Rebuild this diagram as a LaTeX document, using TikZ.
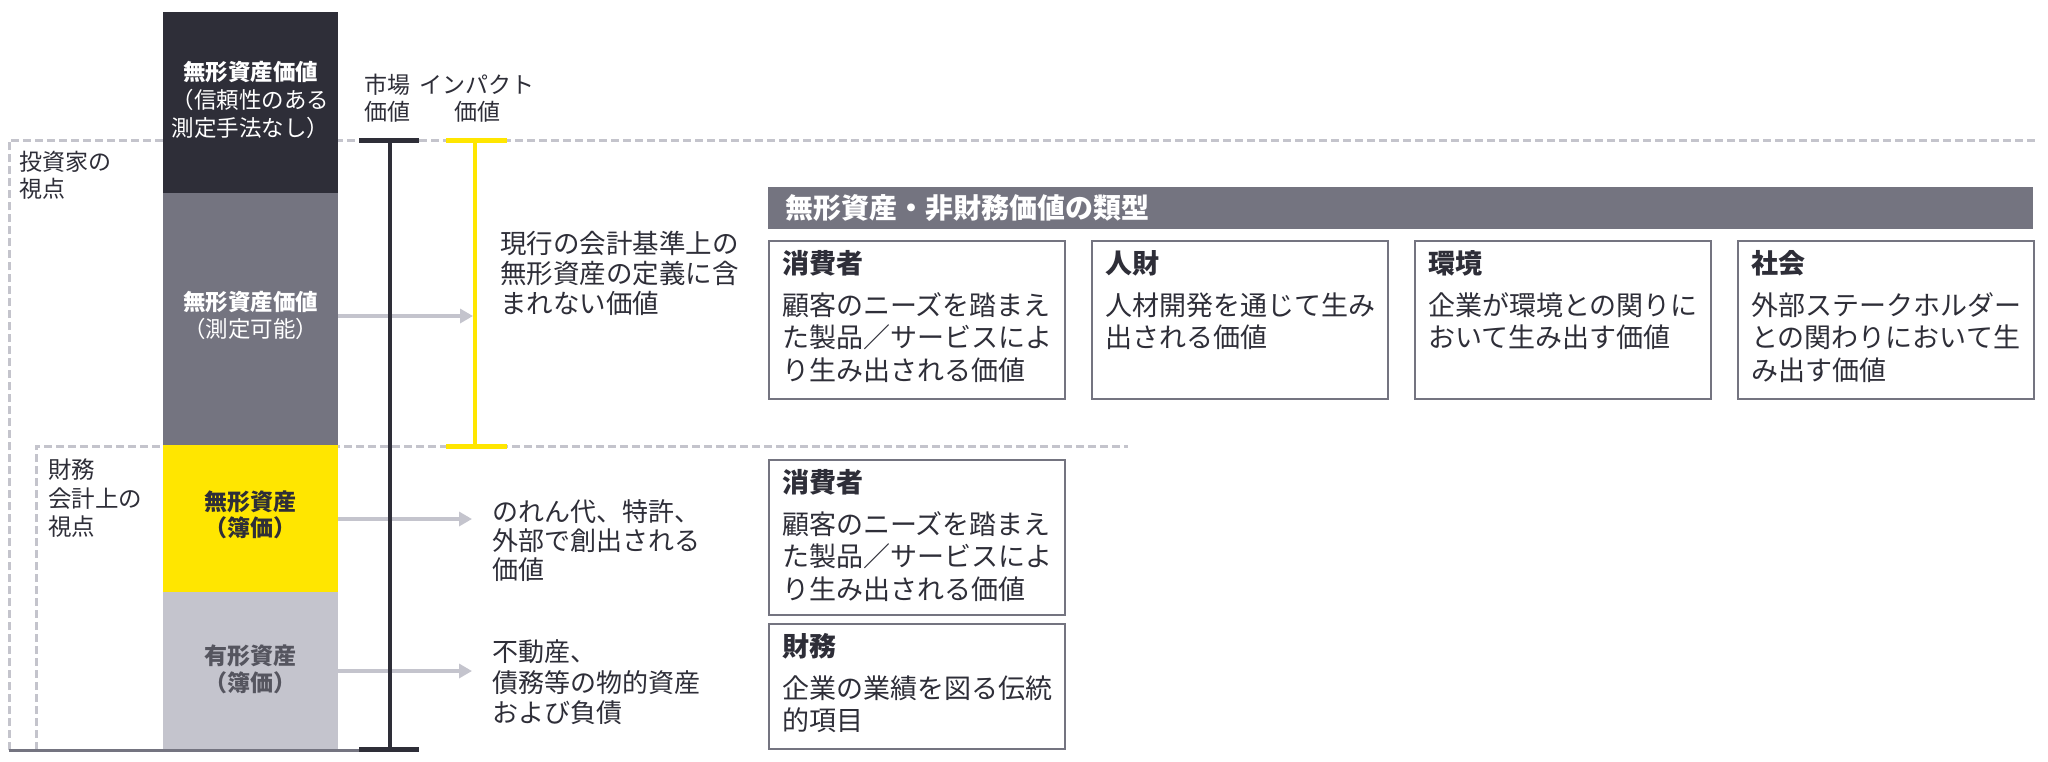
\documentclass[tikz,border=0pt]{standalone}
\usepackage{fontspec}
\setmainfont{Noto Sans CJK JP}
\usetikzlibrary{arrows.meta}
\definecolor{cdark}{HTML}{2E2E38}
\definecolor{cmid}{HTML}{747480}
\definecolor{cyel}{HTML}{FFE600}
\definecolor{clight}{HTML}{C4C4CD}
\definecolor{cdash}{HTML}{C4C4CC}
\definecolor{clighttxt}{HTML}{55555F}
\newcommand\jstrut{\rule[-0.12em]{0pt}{1em}}
\tikzset{
  dashline/.style={draw=cdash, line width=3pt, dash pattern=on 8pt off 4pt},
  bar/.style={minimum width=175pt, inner sep=0pt, draw=none},
  arr/.style={draw=clight, line width=3.5pt, -{Triangle[length=13pt,width=14pt]}},
  mline/.style={draw=cdark, line width=3.5pt},
  mtick/.style={draw=cdark, line width=5pt},
  yline/.style={draw=cyel, line width=4pt},
  ytick/.style={draw=cyel, line width=5pt},
  txt/.style={inner sep=0pt, text=cdark, align=left, anchor=west},
  ctxt/.style={inner sep=0pt, align=center, anchor=center},
  card/.style={draw=cmid, line width=2pt, fill=white, minimum width=296pt, inner sep=0pt, anchor=north west},
  ctitle/.style={inner sep=0pt, text=cdark, anchor=west, font=\fontsize{27}{32.5}\selectfont\bfseries},
  cbody/.style={inner sep=0pt, text=cdark, anchor=west, align=left, font=\fontsize{27}{32.5}\selectfont},
}
\begin{document}
\begin{tikzpicture}[x=1pt,y=-1pt]
\useasboundingbox (0,0) rectangle (2048,761);
\fill[white] (0,0) rectangle (2048,761);

% dashed frames
\coordinate (d1) at (9,140);
\coordinate (d2) at (2035,140);
\coordinate (d3) at (9,750);
\coordinate (e1) at (36,446);
\coordinate (e2) at (1128,446);
\coordinate (e3) at (36,750);
\draw[dashline] (d3) -- (d1) -- (d2);
\draw[dashline] (e3) -- (e1) -- (e2);

% bars
\node[bar, fill=cdark, minimum height=181pt] (bdark) at (250.5,102.5) {};
\node[bar, fill=cmid, minimum height=252pt] (bmid) at (250.5,319) {};
\node[bar, fill=cyel, minimum height=147pt] (byel) at (250.5,518.5) {};
\node[bar, fill=clight, minimum height=158pt] (blight) at (250.5,671) {};

% baseline
\coordinate (bl1) at (9,750);
\coordinate (bl2) at (380,750);
\draw[draw=cmid, line width=3pt] (bl1) -- (bl2);

% arrows
\coordinate (t1) at (473,316);
\coordinate (t2) at (472,519);
\coordinate (t3) at (472,671);
\draw[arr] (bmid.east |- t1) -- (t1);
\draw[arr] (byel.east |- t2) -- (t2);
\draw[arr] (blight.east |- t3) -- (t3);

% market value line
\coordinate (mtop) at (390,140);
\coordinate (mbot) at (390,750);
\draw[mline] (mtop) -- (mbot);
\draw[mtick] (359,140) -- (419,140);
\draw[mtick] (359,749) -- (419,749);

% impact value line
\coordinate (ytop) at (475,140);
\coordinate (ybot) at (475,446);
\draw[yline] (ytop) -- (ybot);
\draw[ytick] (446,140) -- (507,140);
\draw[ytick] (446,446) -- (507,446);

% bar texts
\node[ctxt, text=white, font=\fontsize{22.5}{28}\selectfont] (tdark) at (250.5,100)
  {\jstrut\textbf{無形資産価値}\\\jstrut（信頼性のある\\\jstrut 測定手法なし）};
\node[ctxt, text=white, font=\fontsize{22.5}{27}\selectfont] (tmid) at (250.5,315)
  {\jstrut\textbf{無形資産価値}\\\jstrut（測定可能）};
\node[ctxt, text=cdark, font=\fontsize{23}{26.5}\selectfont\bfseries] (tyel) at (250.5,515)
  {\jstrut 無形資産\\\jstrut（簿価）};
\node[ctxt, text=clighttxt, font=\fontsize{23}{27.5}\selectfont\bfseries] (tlight) at (250.5,669)
  {\jstrut 有形資産\\\jstrut（簿価）};

% column labels
\node[ctxt, text=cdark, font=\fontsize{23}{27}\selectfont] (lmkt) at (387,98.5)
  {\jstrut 市場\\\jstrut 価値};
\node[ctxt, text=cdark, font=\fontsize{23}{27}\selectfont] (limp) at (477,98.5)
  {\jstrut インパクト\\\jstrut 価値};

% perspective labels
\node[txt, font=\fontsize{23}{27}\selectfont] (linv) at (19,175)
  {\jstrut 投資家の\\\jstrut 視点};
\node[txt, font=\fontsize{23.5}{28.5}\selectfont] (lfin) at (48,498.5)
  {\jstrut 財務\\\jstrut 会計上の\\\jstrut 視点};

% descriptions
\node[txt, font=\fontsize{26.5}{30}\selectfont] (r1) at (500,273)
  {\jstrut 現行の会計基準上の\\\jstrut 無形資産の定義に含\\\jstrut まれない価値};
\node[txt, font=\fontsize{26}{29}\selectfont] (r2) at (492,541)
  {\jstrut のれん代、特許、\\\jstrut 外部で創出される\\\jstrut 価値};
\node[txt, font=\fontsize{26}{30.5}\selectfont] (r3) at (492,682.5)
  {\jstrut 不動産、\\\jstrut 債務等の物的資産\\\jstrut および負債};

% header
\node[fill=cmid, minimum width=1265pt, minimum height=42pt, inner sep=0pt, anchor=north west] (hdr) at (768,187) {};
\node[inner sep=0pt, anchor=west, text=white, font=\fontsize{28}{30}\selectfont\bfseries] (hdrt) at (785,208)
  {\jstrut 無形資産・非財務価値の類型};

% cards row 1
\node[card, minimum height=158pt] (c1) at (768,240) {};
\node[ctitle] (c1t) at ([xshift=14pt,yshift=-23pt]c1.north west) {\jstrut 消費者};
\node[cbody] (c1b) at ([xshift=14pt,yshift=-97.5pt]c1.north west)
  {\jstrut 顧客のニーズを踏まえ\\\jstrut た製品／サービスによ\\\jstrut り生み出される価値};

\node[card, minimum height=158pt] (c2) at (1091,240) {};
\node[ctitle] (c2t) at ([xshift=14pt,yshift=-23pt]c2.north west) {\jstrut 人財};
\node[cbody] (c2b) at ([xshift=14pt,yshift=-81.25pt]c2.north west)
  {\jstrut 人材開発を通じて生み\\\jstrut 出される価値};

\node[card, minimum height=158pt] (c3) at (1414,240) {};
\node[ctitle] (c3t) at ([xshift=14pt,yshift=-23pt]c3.north west) {\jstrut 環境};
\node[cbody] (c3b) at ([xshift=14pt,yshift=-81.25pt]c3.north west)
  {\jstrut 企業が環境との関りに\\\jstrut おいて生み出す価値};

\node[card, minimum height=158pt] (c4) at (1737,240) {};
\node[ctitle] (c4t) at ([xshift=14pt,yshift=-23pt]c4.north west) {\jstrut 社会};
\node[cbody] (c4b) at ([xshift=14pt,yshift=-97.5pt]c4.north west)
  {\jstrut 外部ステークホルダー\\\jstrut との関わりにおいて生\\\jstrut み出す価値};

% cards lower
\node[card, minimum height=155pt] (c5) at (768,459) {};
\node[ctitle] (c5t) at ([xshift=14pt,yshift=-23pt]c5.north west) {\jstrut 消費者};
\node[cbody] (c5b) at ([xshift=14pt,yshift=-97.5pt]c5.north west)
  {\jstrut 顧客のニーズを踏まえ\\\jstrut た製品／サービスによ\\\jstrut り生み出される価値};

\node[card, minimum height=125pt] (c6) at (768,623) {};
\node[ctitle] (c6t) at ([xshift=14pt,yshift=-23pt]c6.north west) {\jstrut 財務};
\node[cbody] (c6b) at ([xshift=14pt,yshift=-81.25pt]c6.north west)
  {\jstrut 企業の業績を図る伝統\\\jstrut 的項目};
\end{tikzpicture}
\end{document}
